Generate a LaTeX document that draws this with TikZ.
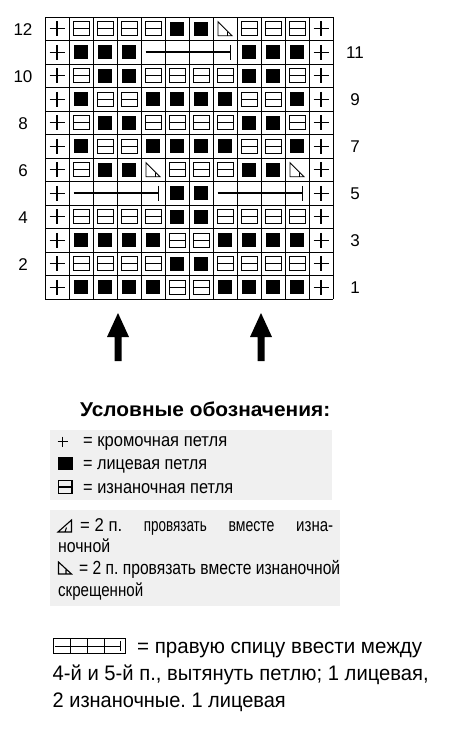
\documentclass[tikz,border=0pt]{standalone}
\usepackage{fontspec}
\usepackage{graphicx}
\setmainfont{Liberation Sans}
\newfontfamily\condfont[FakeStretch=0.9]{Liberation Sans}
\newcommand\fitw[2]{\resizebox{#1pt}{\height}{#2}}
\frenchspacing
% chart symbols, drawn around the cell centre
\newcommand\symE{\draw[line width=1.1pt] (-7.5,0) -- (7.5,0) (0,-7.5) -- (0,7.5);}
\newcommand\symK{\fill (-7,-6.8) rectangle (7,6.8);}
\newcommand\symP{\draw[line width=1pt] (-8,-7) rectangle (8,7) (-8,0) -- (8,0);}
\newcommand\symT{\draw[line width=0.9pt,line join=miter] (-7,-7) -- (-7,7) -- (7,7) -- cycle; \draw[line width=0.9pt] (2.5,7) -- (2.5,3.5);}
\newcommand\symC{}
\begin{document}
\begin{tikzpicture}[x=1pt,y=-1pt,
  lbl/.style={inner sep=0pt,anchor=base west},
  num/.style={inner sep=0pt,font=\fontsize{17}{17}\selectfont},
  gridline/.style={line width=1pt},
  cable/.style={line width=1.6pt},
  legbg/.style={fill=black!6,draw=none}]
\useasboundingbox (0,0) rectangle (460,737);
\fill[white] (0,0) rectangle (460,737);
% ---------------- chart grid ----------------
\foreach \j in {0,...,12} \draw[gridline] (45+\j*24,17) -- (45+\j*24,299);
\foreach \i in {0,...,12} \draw[gridline] (45,17+\i*23.5) -- (333,17+\i*23.5);
% ---------------- symbols ----------------
\foreach \row [count=\i from 0] in {
 {E,P,P,P,P,K,K,T,P,P,P,E},
 {E,K,K,K,C,C,C,C,K,K,K,E},
 {E,P,K,K,P,P,P,P,K,K,P,E},
 {E,K,P,P,K,K,K,K,P,P,K,E},
 {E,P,K,K,P,P,P,P,K,K,P,E},
 {E,K,P,P,K,K,K,K,P,P,K,E},
 {E,P,K,K,T,P,P,P,K,K,T,E},
 {E,C,C,C,C,K,K,C,C,C,C,E},
 {E,P,P,P,P,K,K,P,P,P,P,E},
 {E,K,K,K,K,P,P,K,K,K,K,E},
 {E,P,P,P,P,K,K,P,P,P,P,E},
 {E,K,K,K,K,P,P,K,K,K,K,E}} {
  \foreach \s [count=\j from 0] in \row {
    \begin{scope}[shift={(57+\j*24,28.75+\i*23.5)}]
      \csname sym\s\endcsname
    \end{scope}
  }
}
% cables: row 11 cols 5-8, row 5 cols 2-5 and 8-11
\coordinate (c11a) at (45+4*24+4.5,40.5+11.75);
\coordinate (c11b) at (45+8*24-6.5,40.5+11.75);
\coordinate (c5a) at (45+1*24+4.5,17+7*23.5+11.75);
\coordinate (c5b) at (45+5*24-6.5,17+7*23.5+11.75);
\coordinate (c5c) at (45+7*24+4.5,17+7*23.5+11.75);
\coordinate (c5d) at (45+11*24-6.5,17+7*23.5+11.75);
\draw[cable] (c11a) -- (c11b);
\draw[cable] (c5a) -- (c5b) (c5c) -- (c5d);
\draw[cable] ([yshift=7.5pt]c11b) -- ([yshift=-7.5pt]c11b);
\draw[cable] ([yshift=7.5pt]c5b) -- ([yshift=-7.5pt]c5b);
\draw[cable] ([yshift=7.5pt]c5d) -- ([yshift=-7.5pt]c5d);
% row numbers
\foreach \n [count=\i from 0] in {12,10,8,6,4,2}
  \node[num] (l\n) at (23,29.5+\i*47) {\n};
\foreach \n [count=\i from 0] in {11,9,7,5,3,1}
  \node[num] (r\n) at (355,53+\i*47) {\n};
% arrows
\foreach \ax in {118,261}
  \fill (\ax,313) -- (\ax+11,337) -- (\ax+3.5,337) -- (\ax+3.5,361) -- (\ax-3.5,361) -- (\ax-3.5,337) -- (\ax-11,337) -- cycle;
% ---------------- legend ----------------
\node[lbl] (title) at (80,416) {\fitw{250}{\fontsize{20}{20}\selectfont\bfseries Условные обозначения:}};
\fill[legbg] (50,430) rectangle (332,500);
\fill[legbg] (50,510) rectangle (340,606);
% box 1
\draw[line width=1.3pt] (57.5,441.5) -- (67.5,441.5) (62.5,436.5) -- (62.5,446.5);
\fill (58,457) rectangle (72.5,470);
\draw[line width=1.2pt] (58.5,480.5) rectangle (72,493.5) (58.5,487) -- (72,487);
\node[lbl] (t1) at (83,446) {\fitw{144}{\fontsize{18.5}{18}\selectfont = кромочная петля}};
\node[lbl] (t2) at (83,469.5) {\fitw{124}{\fontsize{18.5}{18}\selectfont = лицевая петля}};
\node[lbl] (t3) at (83,493) {\fitw{150}{\fontsize{18.5}{18}\selectfont = изнаночная петля}};
% box 2
\draw[line width=1.1pt,line join=miter] (58,532) -- (71.5,532) -- (71.5,520) -- cycle (65,532) -- (66.5,527.5);
\node[lbl] (t4) at (80,531.5) {\makebox[253pt][s]{\fitw{42}{\fontsize{18.5}{18}\selectfont = 2 п.}\hfill\fitw{63}{\fontsize{18.5}{18}\selectfont провязать}\hfill\fitw{46}{\fontsize{18.5}{18}\selectfont вместе}\hfill\fitw{37}{\fontsize{18.5}{18}\selectfont изна-}}};
\node[lbl] (t5) at (58,552) {\fitw{52}{\fontsize{18.5}{18}\selectfont ночной}};
\draw[line width=1.1pt,line join=miter] (58.5,562) -- (58.5,574) -- (71.5,574) -- cycle (66,574) -- (66,569.5);
\node[lbl] (t6) at (79,574) {\fitw{261}{\fontsize{19}{19}\selectfont = 2 п. провязать вместе изнаночной}};
\node[lbl] (t7) at (58,596.5) {\fitw{85}{\fontsize{18.5}{18}\selectfont скрещенной}};
% box 3
\draw[line width=1pt] (53,638.5) rectangle (125,653);
\foreach \k in {1,2,3} \draw[line width=1pt] (53+\k*17,638.5) -- (53+\k*17,653);
\draw[line width=1pt] (55,646) -- (120.5,646) (120.5,641) -- (120.5,651);
\node[lbl] (t8) at (137,653) {\fitw{285}{\fontsize{21}{21}\selectfont = правую спицу ввести между}};
\node[lbl] (t9) at (52.5,680) {\fitw{376}{\fontsize{21}{21}\selectfont 4-й и 5-й п., вытянуть петлю; 1 лицевая,}};
\node[lbl] (t10) at (52.5,707) {\fitw{233}{\fontsize{21}{21}\selectfont 2 изнаночные. 1 лицевая}};
\end{tikzpicture}
\end{document}
